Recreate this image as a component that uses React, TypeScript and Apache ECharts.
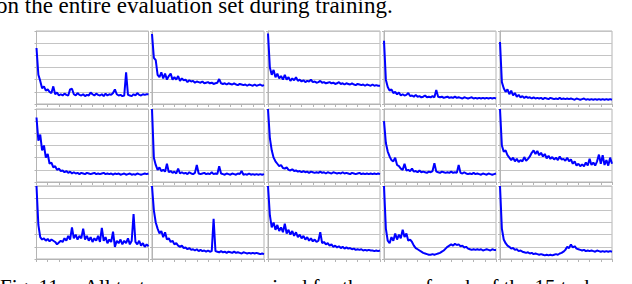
import React, { useEffect, useRef } from "react";
import * as echarts from "echarts";

// x: 61 evaluation steps per run (index 0..60); y: error in grid units 0..6
const xMax = 60;
const yMax = 6;

const run1 = [4.6, 2.4, 1.9, 1.3, 1.45, 1.1, 1.2, 1.0, 0.9, 1.45, 0.8, 0.95, 0.7, 0.8, 0.7, 0.85, 0.75, 0.7, 1.2, 1.25, 0.8, 0.7, 0.9, 0.75, 0.7, 0.8, 0.65, 0.75, 0.7, 0.95, 0.8, 0.7, 0.85, 0.75, 0.7, 0.8, 0.65, 0.85, 0.7, 0.8, 0.75, 0.9, 1.2, 0.8, 0.7, 0.75, 0.65, 0.7, 2.6, 0.75, 0.7, 0.65, 0.8, 0.7, 0.9, 0.75, 0.7, 0.8, 0.75, 0.8, 0.8];
const run2 = [5.75, 3.8, 3.6, 2.4, 2.2, 2.6, 2.1, 2.5, 2.0, 2.3, 2.5, 2.0, 2.2, 2.0, 2.3, 1.9, 2.1, 1.95, 2.0, 1.8, 1.95, 1.85, 1.9, 1.75, 1.85, 1.8, 1.75, 1.85, 1.7, 1.75, 1.8, 1.7, 1.75, 1.65, 1.7, 1.75, 2.05, 1.7, 1.65, 1.7, 1.6, 1.7, 1.65, 1.6, 1.7, 1.6, 1.55, 1.65, 1.6, 1.55, 1.6, 1.5, 1.6, 1.55, 1.5, 1.6, 1.5, 1.55, 1.6, 1.5, 1.55];
const run3 = [5.8, 3.0, 2.4, 2.8, 2.2, 2.5, 2.1, 2.3, 2.0, 2.4, 2.0, 2.2, 1.9, 2.1, 1.95, 2.2, 1.9, 2.0, 1.85, 1.95, 1.8, 1.9, 1.85, 2.0, 1.8, 1.85, 1.75, 1.8, 1.9, 1.75, 1.8, 1.7, 1.75, 1.8, 1.7, 1.75, 1.65, 1.7, 1.8, 1.65, 1.7, 1.6, 1.7, 1.65, 1.6, 1.7, 1.6, 1.55, 1.65, 1.6, 1.55, 1.6, 1.5, 1.6, 1.55, 1.5, 1.6, 1.5, 1.55, 1.5, 1.5];
const run4 = [5.2, 2.0, 1.4, 1.1, 1.2, 0.9, 1.0, 0.8, 0.95, 0.7, 0.8, 0.7, 0.75, 0.9, 0.65, 0.7, 0.6, 0.75, 0.6, 0.65, 0.55, 0.6, 0.7, 0.55, 0.6, 0.55, 0.65, 0.55, 1.15, 0.6, 0.55, 0.6, 0.5, 0.55, 0.6, 0.5, 0.55, 0.5, 0.6, 0.5, 0.55, 0.5, 0.45, 0.55, 0.5, 0.45, 0.5, 0.55, 0.45, 0.5, 0.45, 0.5, 0.45, 0.5, 0.45, 0.5, 0.45, 0.5, 0.45, 0.5, 0.45];
const run5 = [5.1, 1.8, 1.3, 1.0, 1.2, 0.8, 1.1, 0.7, 0.9, 0.6, 0.75, 0.55, 0.65, 0.5, 0.6, 0.5, 0.55, 0.45, 0.55, 0.45, 0.5, 0.45, 0.5, 0.4, 0.5, 0.45, 0.4, 0.5, 0.45, 0.4, 0.45, 0.4, 0.5, 0.4, 0.45, 0.4, 0.45, 0.4, 0.45, 0.4, 0.35, 0.45, 0.4, 0.35, 0.4, 0.45, 0.35, 0.4, 0.35, 0.4, 0.35, 0.4, 0.35, 0.4, 0.35, 0.4, 0.35, 0.4, 0.35, 0.4, 0.35];
const run6 = [5.3, 3.4, 3.9, 2.6, 3.0, 2.0, 2.3, 1.5, 1.6, 1.2, 1.3, 1.0, 1.1, 0.9, 0.95, 0.8, 0.9, 0.75, 0.85, 0.7, 0.8, 0.7, 0.75, 0.65, 0.75, 0.7, 0.65, 0.75, 0.7, 0.65, 0.7, 0.75, 0.65, 0.7, 0.65, 0.7, 0.75, 0.65, 0.7, 0.65, 0.7, 0.6, 0.7, 0.65, 0.7, 0.6, 0.65, 0.7, 0.6, 0.65, 0.7, 0.6, 0.65, 0.6, 0.7, 0.65, 0.6, 0.65, 0.7, 0.65, 0.7];
const run7 = [6.0, 2.0, 1.4, 1.0, 1.2, 0.9, 1.0, 0.85, 1.5, 0.8, 0.9, 0.75, 0.85, 0.7, 1.1, 0.7, 0.8, 0.7, 0.75, 0.65, 0.8, 0.7, 0.65, 0.75, 1.4, 0.7, 0.65, 0.7, 0.75, 0.65, 0.7, 0.65, 0.8, 0.65, 0.7, 0.65, 1.3, 0.7, 0.65, 0.6, 0.7, 0.65, 0.6, 0.7, 0.65, 0.6, 0.7, 0.65, 0.9, 0.6, 0.65, 0.6, 0.7, 0.6, 0.65, 0.6, 0.65, 0.6, 0.65, 0.6, 0.65];
const run8 = [6.0, 3.6, 2.6, 2.0, 1.7, 1.5, 1.3, 1.4, 1.15, 1.1, 1.2, 1.0, 0.95, 1.05, 0.9, 0.95, 0.85, 0.9, 0.8, 0.9, 0.8, 0.85, 0.75, 0.85, 0.8, 0.75, 0.8, 0.75, 0.85, 0.75, 0.8, 0.7, 0.8, 0.75, 0.7, 0.8, 0.75, 0.7, 0.75, 0.7, 0.8, 0.7, 0.75, 0.7, 0.65, 0.75, 0.7, 0.65, 0.7, 0.75, 0.65, 0.7, 0.65, 0.7, 0.65, 0.7, 0.65, 0.7, 0.65, 0.7, 0.65];
const run9 = [5.0, 3.2, 2.5, 2.1, 1.8, 1.7, 2.0, 1.4, 1.3, 1.1, 1.0, 1.5, 0.95, 1.0, 0.9, 1.1, 0.85, 0.9, 0.8, 0.95, 0.8, 0.85, 0.8, 0.75, 0.85, 0.8, 0.9, 1.55, 0.85, 0.8, 0.75, 0.85, 0.8, 0.75, 0.8, 0.75, 0.85, 0.75, 0.8, 0.75, 1.4, 0.75, 0.7, 0.8, 0.7, 0.65, 0.7, 0.65, 0.75, 0.65, 0.7, 0.65, 0.6, 0.7, 0.65, 0.6, 0.7, 0.65, 0.6, 0.65, 0.7];
const run10 = [6.0, 3.0, 2.5, 2.6, 2.2, 2.0, 1.8, 2.0, 1.7, 1.9, 1.65, 1.8, 1.7, 2.05, 1.75, 1.9, 2.1, 2.4, 2.6, 2.3, 2.55, 2.2, 2.4, 2.1, 2.3, 1.95, 2.15, 1.9, 2.05, 1.85, 2.0, 1.8, 2.1, 1.85, 1.9, 1.75, 2.0, 1.7, 1.85, 1.5, 1.7, 1.35, 1.5, 1.3, 1.45, 1.3, 1.6, 1.35, 1.9, 1.4, 1.6, 1.35, 1.7, 2.25, 1.5, 2.2, 1.4, 1.8, 1.35, 2.0, 1.5];
const run11 = [6.0, 2.8, 1.8, 1.6, 1.7, 1.5, 1.65, 1.45, 1.6, 1.5, 1.4, 1.2, 1.35, 1.5, 1.4, 1.7, 1.5, 1.9, 1.6, 2.6, 1.7, 2.0, 1.6, 1.9, 1.7, 2.5, 1.6, 1.9, 1.5, 1.8, 1.4, 1.7, 1.5, 1.9, 1.4, 2.55, 1.5, 1.8, 1.3, 1.6, 1.4, 2.25, 1.0, 1.5, 1.3, 1.6, 1.2, 1.5, 1.3, 1.7, 1.2, 1.5, 3.7, 1.4, 1.2, 1.5, 1.1, 1.3, 1.0, 1.2, 1.05];
const run12 = [6.0, 4.0, 3.0, 2.5, 2.1, 2.3, 1.8, 2.2, 1.6, 1.7, 1.4, 1.5, 1.2, 1.3, 1.1, 1.0, 1.1, 0.9, 0.95, 0.8, 0.9, 0.75, 0.8, 0.7, 0.8, 0.65, 0.75, 0.65, 0.7, 0.6, 0.7, 0.6, 0.65, 3.3, 0.65, 0.6, 0.55, 0.65, 0.55, 0.6, 0.5, 0.6, 0.55, 0.5, 0.6, 0.5, 0.55, 0.5, 0.45, 0.55, 0.5, 0.45, 0.5, 0.45, 0.5, 0.45, 0.5, 0.45, 0.4, 0.45, 0.4];
const run13 = [6.0, 3.6, 2.6, 3.0, 2.4, 2.8, 2.3, 2.6, 2.2, 2.9, 2.1, 2.4, 2.0, 2.3, 1.9, 2.2, 1.8, 2.0, 1.7, 1.9, 1.6, 1.8, 1.5, 1.7, 1.45, 1.6, 1.4, 1.5, 2.2, 1.3, 1.4, 1.2, 1.3, 1.1, 1.2, 1.0, 1.1, 0.95, 1.05, 0.9, 1.0, 0.85, 0.95, 0.85, 0.9, 0.8, 0.85, 0.75, 0.8, 0.75, 0.8, 0.7, 0.75, 0.7, 0.75, 0.7, 0.7, 0.65, 0.7, 0.65, 0.7];
const run14 = [6.0, 2.5, 1.5, 1.3, 1.8, 1.5, 2.1, 1.6, 2.0, 1.7, 2.4, 1.8, 2.1, 1.5, 1.6, 1.4, 1.1, 0.9, 0.8, 0.7, 0.6, 0.5, 0.45, 0.4, 0.35, 0.35, 0.4, 0.35, 0.4, 0.45, 0.5, 0.6, 0.7, 0.85, 1.0, 1.1, 1.2, 1.1, 1.25, 1.15, 1.2, 1.05, 1.1, 0.95, 1.0, 0.85, 0.8, 0.75, 0.8, 0.75, 0.8, 0.75, 0.8, 0.7, 0.75, 0.8, 0.75, 0.7, 0.8, 0.75, 0.75];
const run15 = [6.0, 2.5, 1.6, 1.3, 1.1, 1.0, 0.85, 0.9, 0.75, 0.8, 0.65, 0.7, 0.6, 0.55, 0.5, 0.55, 0.45, 0.5, 0.4, 0.45, 0.4, 0.35, 0.4, 0.35, 0.3, 0.35, 0.3, 0.35, 0.3, 0.35, 0.4, 0.35, 0.45, 0.5, 0.6, 0.75, 1.0, 0.9, 1.2, 0.95, 1.05, 0.85, 0.8, 0.75, 0.7, 0.75, 0.65, 0.7, 0.65, 0.7, 0.65, 0.6, 0.7, 0.65, 0.6, 0.65, 0.6, 0.65, 0.6, 0.65, 0.6];

const runs = [run1, run2, run3, run4, run5, run6, run7, run8, run9, run10, run11, run12, run13, run14, run15];

const headText = "on the entire evaluation set during training.";
const captionText = "Fig. 11.    All test errors summarized for the runs of each of the 15 tasks and";

export default function App() {
  const ref = useRef<HTMLDivElement>(null);
  useEffect(() => {
    if (!ref.current) return;
    const chart = echarts.init(ref.current, undefined, { renderer: "svg" });
    const colLefts = [36.5, 152, 268, 384, 500];
    const rowTops = [31, 109, 186];
    const gw = 112;
    const gh = 73;
    const grids: any[] = [];
    const xAxes: any[] = [];
    const yAxes: any[] = [];
    const series: any[] = [];
    runs.forEach((vals, k) => {
      const r = Math.floor(k / 5);
      const c = k % 5;
      grids.push({
        left: colLefts[c],
        top: rowTops[r],
        width: gw,
        height: gh,
        show: true,
        borderColor: "#b4b4b4",
        borderWidth: 1,
        backgroundColor: "transparent",
      });
      xAxes.push({
        gridIndex: k,
        type: "value",
        min: 0,
        max: xMax,
        interval: 6,
        axisLabel: { show: false },
        axisLine: { show: true, lineStyle: { color: "#b4b4b4", width: 1 } },
        axisTick: { show: true, length: 3, lineStyle: { color: "#b4b4b4" } },
        splitLine: { show: false },
      });
      yAxes.push({
        gridIndex: k,
        type: "value",
        min: 0,
        max: yMax,
        interval: 1,
        axisLabel: { show: false },
        axisLine: { show: true, lineStyle: { color: "#b4b4b4", width: 1 } },
        axisTick: { show: true, length: 2, lineStyle: { color: "#b4b4b4" } },
        splitLine: { show: true, lineStyle: { color: "#c4c4c4", width: 1 } },
      });
      series.push({
        type: "line",
        xAxisIndex: k,
        yAxisIndex: k,
        data: vals.map((v, i) => [i, v]),
        showSymbol: false,
        symbol: "none",
        silent: true,
        lineStyle: { color: "#0000ff", width: 2 },
      });
    });
    chart.setOption({
      animation: false,
      backgroundColor: "#ffffff",
      grid: grids,
      xAxis: xAxes,
      yAxis: yAxes,
      series,
      graphic: [
        {
          type: "text",
          x: -4,
          y: 5,
          style: {
            text: headText,
            fontFamily: "Liberation Serif, Times New Roman, serif",
            fontSize: 23,
            fill: "#000",
            align: "left",
            verticalAlign: "middle",
          },
        },
        {
          type: "text",
          x: 0,
          y: 287,
          style: {
            text: captionText,
            fontFamily: "Liberation Serif, Times New Roman, serif",
            fontSize: 21,
            fill: "#000",
            align: "left",
            verticalAlign: "middle",
          },
        },
      ],
    });
    return () => chart.dispose();
  }, []);
  return (
    <div
      ref={ref}
      style={{ position: "fixed", left: 0, top: 0, width: 632, height: 284 }}
    />
  );
}
